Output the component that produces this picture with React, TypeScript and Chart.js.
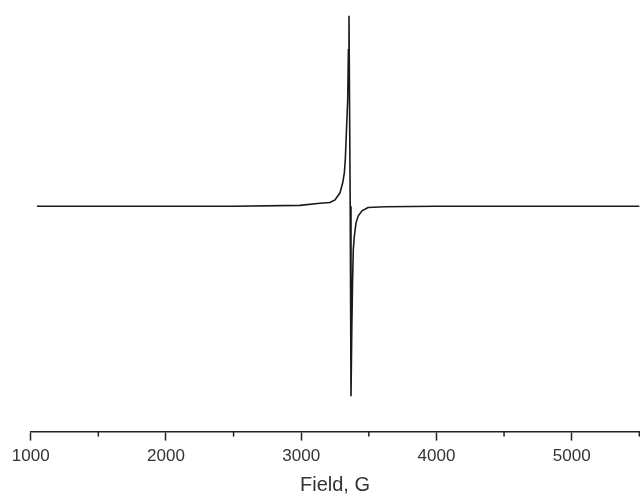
import React, { useEffect, useRef } from "react";
import { Chart, registerables } from "chart.js";

Chart.register(...registerables);

// Magnetic field (G) and first-derivative EPR signal (arbitrary units)
const fieldG: number[] = [
  1046, 1500, 2000, 2500, 2990, 3139, 3213, 3250, 3287, 3307, 3319, 3326.1,
  3335.0, 3343.9, 3349.1, 3353.5, 3362.4, 3368.3, 3374.2, 3380.1, 3385.3,
  3392.7, 3405.3, 3422.3, 3449.7, 3494.0, 3620, 4000, 4500, 5000, 5510,
];
const signal: number[] = [
  0, 0, 0, 0, 0.005, 0.016, 0.02, 0.034, 0.071, 0.124, 0.176, 0.245,
  0.403, 0.561, 0.824, 1.004, 0, -1.001, -0.65, -0.387, -0.229,
  -0.159, -0.087, -0.05, -0.024, -0.006, -0.002, 0, 0, 0, 0,
];

const xMin = 1000;
const xMax = 5500;
const xStep = 500;
const majorEvery = 1000;
const xTitle = "Field, G";

const minorTicks = {
  id: "minorTicks",
  afterDraw(chart: any) {
    const xs = chart.scales.x;
    const ctx = chart.ctx;
    ctx.save();
    ctx.strokeStyle = "#222";
    ctx.lineWidth = 1.5;
    for (let v = xMin; v <= xMax; v += xStep) {
      if (v % majorEvery === 0) continue;
      const px = xs.getPixelForValue(v);
      ctx.beginPath();
      ctx.moveTo(px, xs.top);
      ctx.lineTo(px, xs.top + 5);
      ctx.stroke();
    }
    ctx.restore();
  },
};

export default function App() {
  const ref = useRef<HTMLCanvasElement | null>(null);
  useEffect(() => {
    if (!ref.current) return;
    const chart = new Chart(ref.current, {
      type: "line",
      data: {
        datasets: [
          {
            data: fieldG.map((x, i) => ({ x, y: signal[i] })),
            borderColor: "#1a1a1a",
            borderWidth: 1.6,
            pointRadius: 0,
            tension: 0,
            fill: false,
          },
        ],
      },
      options: {
        animation: false,
        responsive: false,
        maintainAspectRatio: false,
        events: [],
        layout: { padding: { left: 30.7, right: 0.7, top: 0, bottom: 0 } },
        plugins: { legend: { display: false }, tooltip: { enabled: false } },
        scales: {
          x: {
            type: "linear",
            min: xMin,
            max: xMax,
            afterFit: (s: any) => {
              s.paddingLeft = 0;
              s.paddingRight = 0;
            },
            border: { display: true, color: "#222", width: 1.5 },
            grid: {
              display: true,
              drawOnChartArea: false,
              tickLength: 9,
              tickWidth: 1.5,
              tickColor: (c: any) =>
                c.tick && c.tick.value % majorEvery === 0 ? "#222" : "rgba(0,0,0,0)",
            },
            ticks: {
              stepSize: xStep,
              autoSkip: false,
              maxRotation: 0,
              padding: 6,
              color: "#333",
              font: { family: "Liberation Sans, Arial, sans-serif", size: 17 },
              callback: (v: any) => (Number(v) % majorEvery === 0 && Number(v) < xMax ? String(v) : ""),
            },
            title: {
              display: true,
              text: xTitle,
              color: "#333",
              padding: { top: 0, bottom: 0 },
              font: { family: "Liberation Sans, Arial, sans-serif", size: 20 },
            },
          },
          y: {
            display: false,
            min: -1.187,
            max: 1.087,
          },
        },
      },
      plugins: [minorTicks],
    });
    return () => chart.destroy();
  }, []);
  return (
    <div style={{ position: "fixed", left: 0, top: 0, width: 640, height: 497, background: "#fff" }}>
      <canvas ref={ref} width={640} height={497} style={{ width: 640, height: 497 }} />
    </div>
  );
}
